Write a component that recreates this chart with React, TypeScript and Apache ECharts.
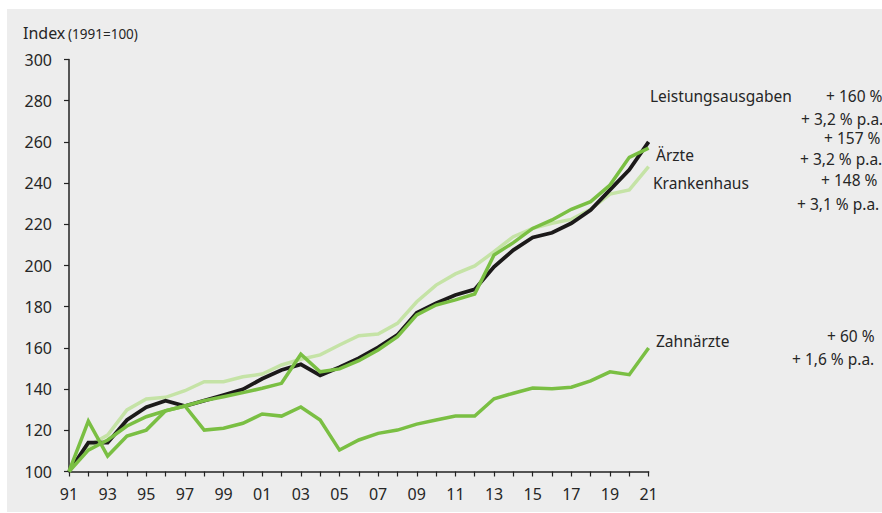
import React, { useEffect, useRef } from "react";
import * as echarts from "echarts";

const years = ["91","92","93","94","95","96","97","98","99","00","01","02","03","04","05","06","07","08","09","10","11","12","13","14","15","16","17","18","19","20","21"];
const yTicks = [100, 120, 140, 160, 180, 200, 220, 240, 260, 280, 300];

const leistungsausgaben = [100,114,114,125,131.2,134.4,131.8,134.4,137.1,139.9,145,149.3,152,146.7,150.6,155,160.3,166.3,177.1,181.7,185.7,188.4,199.4,207.5,213.6,215.9,220.5,226.9,236.7,246.4,260];
const aerzte = [100,110.4,115.3,122.1,126.6,129.5,131.8,134.4,136.3,138.3,140.4,142.8,156.9,148.4,149.8,153.8,159,165.4,176,180.8,183.3,186.2,205.1,211.1,218,222.1,227.3,231,239.1,252.5,257];
const krankenhaus = [100,112.4,117.7,129.9,135.2,136,139.2,143.6,143.6,146,147.3,151.7,154.5,156.6,161.4,165.9,166.7,171.9,182.4,190.5,195.9,199.8,206.7,214,218,220.5,222.4,227.3,234.7,236.7,248];
const zahnaerzte = [100,124.5,107.5,117.2,120.1,129.5,131.8,120.1,121,123.4,127.9,126.9,131.3,125,110.4,115.3,118.5,120.1,123,125,126.9,126.9,135.3,138,140.5,140.2,140.9,144,148.4,147,160];

const seriesNames = ["Leistungsausgaben", "Ärzte", "Krankenhaus", "Zahnärzte"];
const totalChange = ["+ 160 %", "+ 157 %", "+ 148 %", "+ 60 %"];
const annualChange = ["+ 3,2 % p.a.", "+ 3,2 % p.a.", "+ 3,1 % p.a.", "+ 1,6 % p.a."];

const FONT = "'Noto Sans', 'Open Sans', sans-serif";
const TXT = "#262626";
const GREEN = "#7abf43";
const LIGHT = "#c5e3a6";
const BLACK = "#1c1a1a";

export default function App() {
  const ref = useRef<HTMLDivElement>(null);
  useEffect(() => {
    if (!ref.current) return;
    const chart = echarts.init(ref.current, undefined, { renderer: "svg" });
    const t = (text: string, x: number, y: number, size = 15.5, align = "left") => ({
      type: "text",
      x,
      y,
      style: { text, fill: TXT, font: `${size}px ${FONT}`, lineHeight: 14, textAlign: align, textVerticalAlign: "middle" },
      silent: true,
    });
    const graphics: any[] = [
      { type: "rect", shape: { x: 7, y: 9, width: 875, height: 503 }, style: { fill: "#ededed" }, z: -10, silent: true },
      t("Index", 23, 33, 16),
      t("(1991=100)", 68, 34, 13.5),
      t(seriesNames[0], 650, 96),
      t(totalChange[0], 826, 96),
      t(annualChange[0], 801, 118.5),
      t(totalChange[1], 824, 138),
      t(seriesNames[1], 656, 155),
      t(annualChange[1], 800, 159),
      t(seriesNames[2], 653, 183),
      t(totalChange[2], 821, 180),
      t(annualChange[2], 797, 204),
      t(seriesNames[3], 656, 341),
      t(totalChange[3], 827, 336),
      t(annualChange[3], 792, 359),
    ];
    const line = (name: string, data: number[], color: string, z: number, width = 3.5) => ({
      name,
      type: "line",
      data,
      symbol: "none",
      z,
      lineStyle: { color, width, join: "miter" },
      emphasis: { disabled: true },
    });
    chart.setOption({
      animation: false,
      backgroundColor: "#ffffff",
      textStyle: { fontFamily: FONT },
      grid: { left: 69, right: 233.4, top: 59.5, bottom: 41.5, containLabel: false },
      xAxis: {
        type: "category",
        data: years,
        boundaryGap: false,
        axisLine: { lineStyle: { color: "#222", width: 1.5 } },
        axisTick: { interval: 0, length: 5, lineStyle: { color: "#222", width: 1.2 } },
        axisLabel: { interval: 1, color: TXT, fontSize: 16, margin: 14, fontFamily: FONT },
        splitLine: { show: false },
      },
      yAxis: {
        type: "value",
        min: yTicks[0],
        max: yTicks[yTicks.length - 1],
        interval: 20,
        axisLine: { show: true, lineStyle: { color: "#222", width: 1.5 } },
        axisTick: { show: true, length: 5, lineStyle: { color: "#222", width: 1.2 } },
        axisLabel: { color: TXT, fontSize: 16, margin: 17, fontFamily: FONT },
        splitLine: { show: false },
      },
      series: [
        line(seriesNames[2], krankenhaus, LIGHT, 2),
        line(seriesNames[0], leistungsausgaben, BLACK, 3, 3.8),
        line(seriesNames[1], aerzte, GREEN, 4),
        line(seriesNames[3], zahnaerzte, GREEN, 5),
      ],
      graphic: graphics,
    });
    return () => chart.dispose();
  }, []);
  return <div ref={ref} style={{ position: "absolute", left: 0, top: 0, width: 882, height: 513 }} />;
}
